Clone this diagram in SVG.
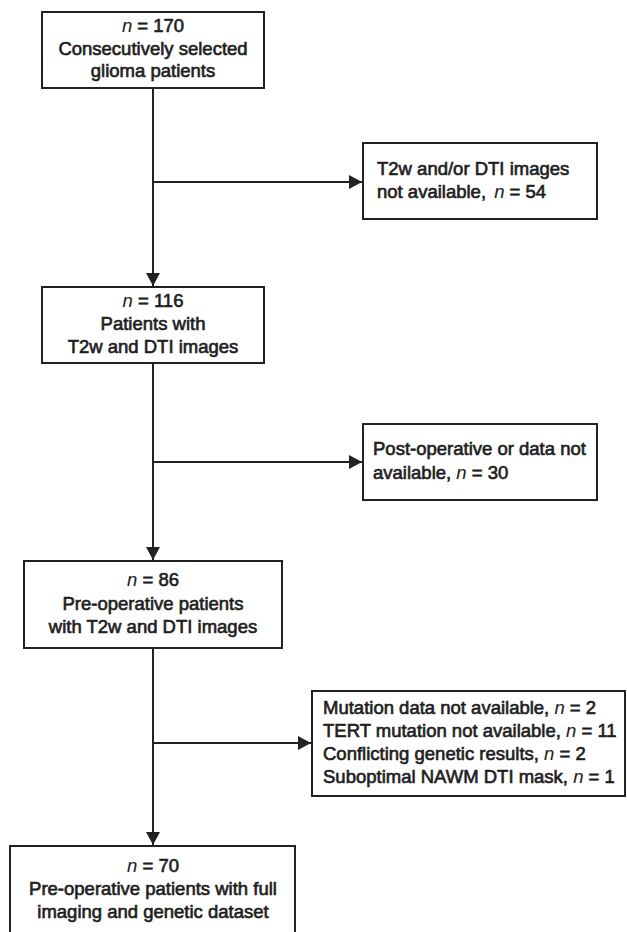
<svg xmlns="http://www.w3.org/2000/svg" width="627" height="932" viewBox="0 0 627 932">
<style>
  .box { fill: #ffffff; stroke: #222222; stroke-width: 2; }
  .t { font-family: "Liberation Sans", Arial, sans-serif; font-size: 18.5px; fill: #1e1e1e; stroke: #1e1e1e; stroke-width: 0.65; }
  .c { text-anchor: middle; }
  .i { font-style: italic; stroke-width: 0.1; }
  .conn { fill: none; stroke: #222222; stroke-width: 2; }
</style>
<defs>
  <marker id="arrow" markerUnits="userSpaceOnUse" markerWidth="14" markerHeight="15" refX="13" refY="7.5" orient="auto">
    <path d="M0,0.5 L13,7.5 L0,14.5 Z" fill="#222222"/>
  </marker>
</defs>
<rect width="627" height="932" fill="#ffffff"/>

<g id="connectors">
  <line class="conn" x1="153" y1="88" x2="153" y2="286" marker-end="url(#arrow)"/>
  <line class="conn" x1="153" y1="182" x2="362" y2="182" marker-end="url(#arrow)"/>
  <line class="conn" x1="153" y1="363" x2="153" y2="560" marker-end="url(#arrow)"/>
  <line class="conn" x1="153" y1="462" x2="362" y2="462" marker-end="url(#arrow)"/>
  <line class="conn" x1="153" y1="648" x2="153" y2="845" marker-end="url(#arrow)"/>
  <line class="conn" x1="153" y1="743" x2="311" y2="743" marker-end="url(#arrow)"/>
</g>

<g id="node-170">
  <rect class="box" x="42" y="12" width="222" height="76"/>
  <text class="t c" x="153" y="32"><tspan class="i">n</tspan> = 170</text>
  <text class="t c" x="153" y="55">Consecutively selected</text>
  <text class="t c" x="153" y="77">glioma patients</text>
</g>

<g id="node-excl-54">
  <rect class="box" x="363" y="143" width="234" height="76"/>
  <text class="t" x="377" y="175">T2w and/or DTI images</text>
  <text class="t" x="377" y="198">not available, <tspan class="i" dx="3">n</tspan> = 54</text>
</g>

<g id="node-116">
  <rect class="box" x="42" y="287" width="222" height="76"/>
  <text class="t c" x="153" y="307"><tspan class="i">n</tspan> = 116</text>
  <text class="t c" x="153" y="330">Patients with</text>
  <text class="t c" x="153" y="353">T2w and DTI images</text>
</g>

<g id="node-excl-30">
  <rect class="box" x="363" y="424" width="234" height="76"/>
  <text class="t" x="373" y="455">Post-operative or data not</text>
  <text class="t" x="373" y="479">available, <tspan class="i">n</tspan> = 30</text>
</g>

<g id="node-86">
  <rect class="box" x="24" y="561" width="258" height="87"/>
  <text class="t c" x="153" y="586"><tspan class="i">n</tspan> = 86</text>
  <text class="t c" x="153" y="610">Pre-operative patients</text>
  <text class="t c" x="153" y="633">with T2w and DTI images</text>
</g>

<g id="node-excl-genetic">
  <rect class="box" x="312" y="691" width="313" height="105"/>
  <text class="t" x="323" y="714">Mutation data not available, <tspan class="i">n</tspan> = 2</text>
  <text class="t" x="323" y="737">TERT mutation not available, <tspan class="i">n</tspan> = 11</text>
  <text class="t" x="323" y="760">Conflicting genetic results, <tspan class="i">n</tspan> = 2</text>
  <text class="t" x="323" y="783">Suboptimal NAWM DTI mask, <tspan class="i">n</tspan> = 1</text>
</g>

<g id="node-70">
  <rect class="box" x="10" y="846" width="285" height="100"/>
  <text class="t c" x="153" y="872"><tspan class="i">n</tspan> = 70</text>
  <text class="t c" x="153" y="895">Pre-operative patients with full</text>
  <text class="t c" x="153" y="918">imaging and genetic dataset</text>
</g>
</svg>
